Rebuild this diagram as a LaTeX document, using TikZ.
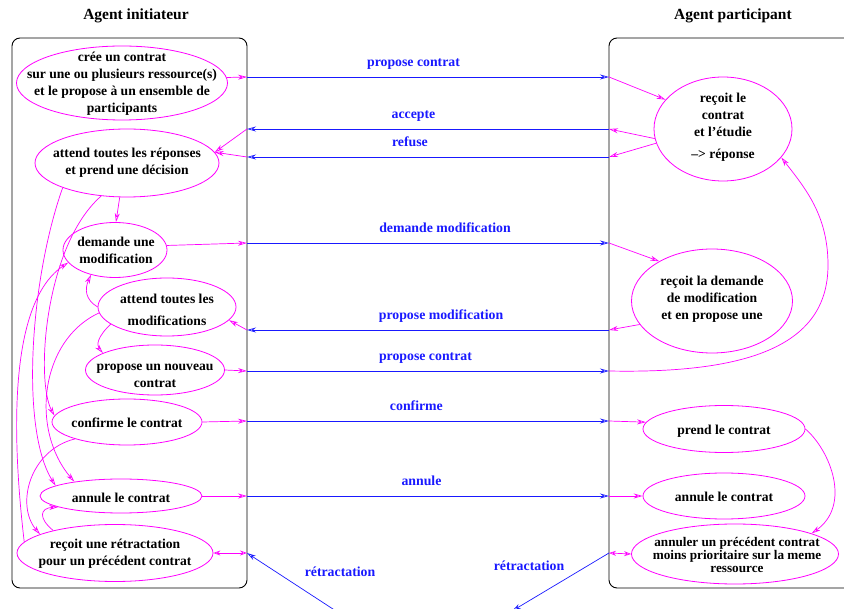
\documentclass[tikz,border=0pt]{standalone}
\usepackage{fontspec}
\setmainfont{Liberation Serif}
\usetikzlibrary{shapes.geometric,arrows.meta}

\definecolor{rose}{RGB}{255,0,255}
\definecolor{bleu}{RGB}{25,25,255}

\tikzset{
  etat/.style={draw=rose, line width=0.8pt, ellipse, inner sep=0pt},
  texte/.style={align=center, font=\fontsize{13.6}{17}\selectfont\bfseries},
  titre/.style={font=\fontsize{15.5}{18}\selectfont\bfseries},
  lien/.style={draw=rose, line width=0.7pt, -{Stealth[open, length=9pt, width=5pt]}},
  lien2/.style={draw=rose, line width=0.7pt, {Stealth[open, length=7pt, width=5pt]}-{Stealth[open, length=7pt, width=5pt]}},
  msg/.style={draw=bleu, line width=0.7pt, -{Stealth[open, length=9pt, width=5pt]}},
  msgtxt/.style={text=bleu, font=\fontsize{13.8}{16}\selectfont\bfseries, inner sep=0pt, text height=9.5pt, text depth=3pt},
  lbl/.style={msgtxt, above=7pt},
  boite/.style={line width=0.9pt, rounded corners=8pt}
}

\begin{document}
\begin{tikzpicture}[x=1pt, y=-1pt]
  \useasboundingbox (0,0) rectangle (844,609);

  % titres
  \node[titre] (tinit) at (136,16) {Agent initiateur};
  \node[titre] (tpart) at (733,16) {Agent participant};

  % les deux agents
  \draw[boite] (12,38) rectangle (247,588);
  \draw[boite] (844,38) -- (609,38) -- (609,588) -- (844,588);

  % etats de l'initiateur
  \node[etat, minimum width=211pt, minimum height=74pt] (cree) at (122,83) {};
  \node[etat, minimum width=184pt, minimum height=68pt] (attrep) at (127,163) {};
  \node[etat, minimum width=104pt, minimum height=55pt] (dmod) at (115,250) {};
  \node[etat, minimum width=138pt, minimum height=58pt] (attmod) at (167,307) {};
  \node[etat, minimum width=139pt, minimum height=50pt] (pnouv) at (155,370) {};
  \node[etat, minimum width=150pt, minimum height=46pt] (conf) at (127,422) {};
  \node[etat, minimum width=162pt, minimum height=34pt] (ann) at (121,496) {};
  \node[etat, minimum width=196pt, minimum height=57pt] (retr) at (115,553) {};

  \node[texte] (cree-t) at (122,84) {crée un contrat\\sur une ou plusieurs ressource(s)\\et le propose à un ensemble de\\participants};
  \node[texte] (attrep-t) at (127,163) {attend toutes les réponses\\et prend une décision};
  \node[texte] (dmod-t) at (116,250) {demande une\\modification};
  \node[texte] (attmod-t) at (167,310) {attend toutes les\\[5pt]modifications};
  \node[texte] (pnouv-t) at (155,376) {propose un nouveau\\contrat};
  \node[texte] (conf-t) at (127,423) {confirme le contrat};
  \node[texte] (ann-t) at (121,498) {annule le contrat};
  \node[texte] (retr-t) at (115,554) {reçoit une rétractation\\pour un précédent contrat};

  % etats du participant
  \node[etat, minimum width=138pt, minimum height=104pt] (etude) at (723,129) {};
  \node[etat, minimum width=161pt, minimum height=104pt] (recmod) at (712,301) {};
  \node[etat, minimum width=162pt, minimum height=47pt] (prend) at (724,429) {};
  \node[etat, minimum width=162pt, minimum height=46pt] (annp) at (724,496) {};
  \node[etat, minimum width=207pt, minimum height=60pt] (annul) at (735,554) {};

  \node[texte] (etude-t) at (723,127) {reçoit le\\contrat\\et l’étudie\\[5pt]--{}> réponse};
  \node[texte] (recmod-t) at (712,299) {reçoit la demande\\de modification\\et en propose une};
  \node[texte] (prend-t) at (724,431) {prend le contrat};
  \node[texte] (annp-t) at (724,497) {annule le contrat};
  \node[texte, font=\fontsize{13.2}{12.6}\selectfont\bfseries] (annul-t) at (737,555) {annuler un précédent contrat\\moins prioritaire sur la meme\\ressource};

  % points sur les bords des agents
  \coordinate (ipc) at (247,77);   \coordinate (ppc) at (609,77);
  \coordinate (iacc) at (247,129); \coordinate (pacc) at (609,129);
  \coordinate (iref) at (247,157); \coordinate (pref) at (609,157);
  \coordinate (idm) at (247,243);  \coordinate (pdm) at (609,243);
  \coordinate (ipm) at (247,330);  \coordinate (ppm) at (609,330);
  \coordinate (ipc2) at (247,371); \coordinate (ppc2) at (609,371);
  \coordinate (icf) at (247,421);  \coordinate (pcf) at (609,421);
  \coordinate (ian) at (247,496);  \coordinate (pan) at (609,496);
  \coordinate (ire) at (247,553);  \coordinate (pre) at (609,553);
  \coordinate (ra) at (336,611);   \coordinate (rb) at (512,611);
  \coordinate (boucle) at (828,265);

  % messages
  \draw[msg] (ipc) -- node[lbl, pos=0.46] (m1) {propose contrat} (ppc);
  \draw[msg] (pacc) -- node[lbl, pos=0.54] (m2) {accepte} (iacc);
  \draw[msg] (pref) -- node[lbl, pos=0.55] (m3) {refuse} (iref);
  \draw[msg] (idm) -- node[lbl, pos=0.547] (m4) {demande modification} (pdm);
  \draw[msg] (ppm) -- node[lbl, pos=0.464] (m5) {propose modification} (ipm);
  \draw[msg] (ipc2) -- node[lbl, pos=0.493] (m6) {propose contrat} (ppc2);
  \draw[msg] (icf) -- node[lbl, pos=0.468] (m7) {confirme} (pcf);
  \draw[msg] (ian) -- node[lbl, pos=0.482] (m8) {annule} (pan);
  \draw[msg] (ra) -- (ire);
  \draw[msg] (pre) -- (rb);
  \node[msgtxt] (rg) at (340,573) {rétractation};
  \node[msgtxt] (rd) at (529,567) {rétractation};

  % transitions de l'initiateur
  \draw[lien] (cree.3) -- (ipc);
  \draw[lien] (iacc) -- (attrep.7);
  \draw[lien] (iref) -- (attrep.7);
  \draw[lien] (dmod.5) -- (idm);
  \draw[lien] (ipm) -- (attmod.-12);
  \draw[lien] (pnouv.east) -- (ipc2);
  \draw[lien] (conf.east) -- (icf);
  \draw[lien] (ann.east) -- (ian);
  \draw[lien2] (retr.east) -- (ire);

  \draw[lien] (attrep.258) -- (dmod.88);
  \draw[lien] (attrep.201) .. controls (30,280) and (20,430) .. (ann.171);
  \draw[lien] (attrep.232) .. controls (45,245) and (35,380) .. (conf.175);
  \draw[lien] (attmod.185) .. controls (40,340) and (30,430) .. (ann.163);
  \draw[lien] (retr.173) .. controls (10,420) and (12,300) .. (dmod.195);
  \draw[lien] (conf.198) .. controls (30,450) and (15,505) .. (retr.166);
  \draw[lien] (retr.160) .. controls (38,518) and (40,508) .. (ann.190);
  \draw[lien] (attmod.west) .. controls (86,300) and (84,290) .. (dmod.226);
  \draw[lien] (attmod.197) .. controls (98,336) and (96,345) .. (pnouv.162);

  % transitions du participant
  \draw[lien] (ppc) -- (etude.153);
  \draw[lien] (etude.188) -- (pacc);
  \draw[lien] (etude.192) -- (pref);
  \draw[lien] (pdm) -- (recmod.143);
  \draw[lien] (recmod.198) -- (ppm);
  \draw[lien] (ppc2) .. controls (760,374) and (828,340) .. (boucle)
              .. controls (828,215) and (805,188) .. (etude.-26);
  \draw[lien] (pcf) -- (prend.175);
  \draw[lien] (pan) -- (annp.west);
  \draw[lien2] (pre) -- (annul.west);
  \draw[lien] (prend.east) .. controls (830,450) and (852,505) .. (annul.15);
\end{tikzpicture}
\end{document}
